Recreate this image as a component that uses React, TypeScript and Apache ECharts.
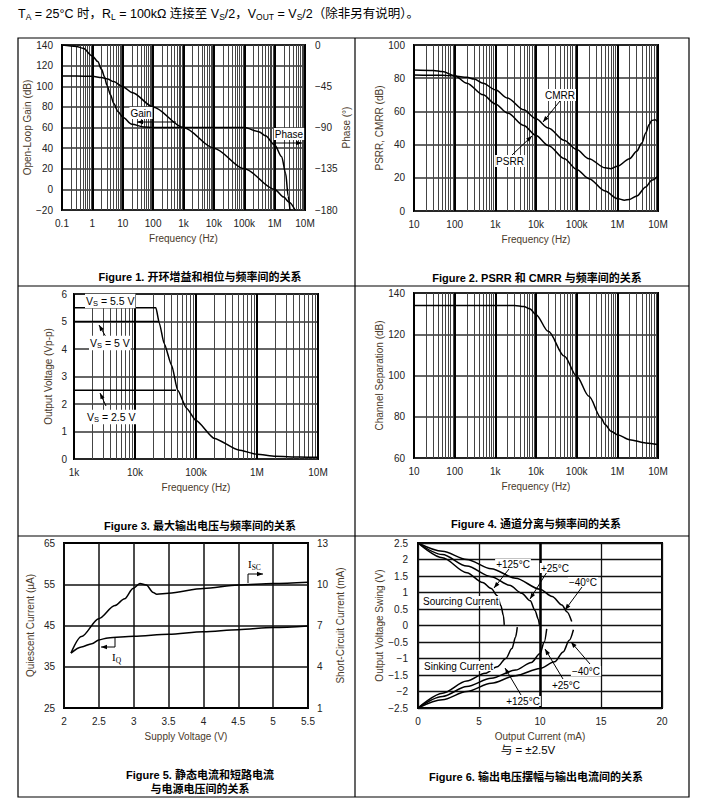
import React, { useEffect, useRef } from "react";
import * as echarts from "echarts";

// ---------------- Figure 1: open-loop gain & phase ----------------
const f1GainFreq = [0.1, 0.3, 1, 2, 3.16, 5, 10, 20, 100, 1000, 10000, 100000, 1000000, 2000000, 3000000, 4700000];
const f1Gain = [110, 110, 109.6, 108.5, 107, 104.5, 99.6, 94, 80, 60, 40, 20, 0, -7.5, -12.5, -20];
const f1PhaseFreq = [0.1, 0.3, 0.5, 1, 1.5, 2, 2.5, 3, 4, 5, 7, 10, 20, 50, 100, 1000, 10000, 100000, 300000, 500000, 1000000, 1700000, 2300000, 2800000, 3200000];
const f1Phase = [0, -1.5, -3.6, -12, -18, -26.5, -34.5, -43.8, -54.6, -63.6, -72.7, -78.9, -86.5, -89.4, -90, -90, -90, -90.1, -94.5, -99, -109, -121.8, -140, -165, -180];

// ---------------- Figure 2: PSRR / CMRR ----------------
const f2PsrrFreq = [10, 30, 50, 100, 200, 500, 1e3, 2e3, 5e3, 1e4, 2e4, 5e4, 1e5, 2e5, 5e5, 1e6, 1.5e6, 2e6, 3e6, 5e6, 7e6, 1e7];
const f2Psrr = [85, 84.7, 84, 81.5, 77, 70, 64.5, 59, 51.5, 45.5, 39.5, 31.5, 25, 19.5, 12, 7.5, 6.5, 7, 9, 14.5, 18.5, 21];
const f2CmrrFreq = [10, 50, 100, 200, 300, 500, 1e3, 2e3, 5e3, 1e4, 2e4, 5e4, 1e5, 2e5, 5e5, 7e5, 1e6, 2e6, 3e6, 4e6, 5e6, 6e6, 7e6, 8.5e6, 1e7];
const f2Cmrr = [82, 81.8, 81.3, 80.5, 79.5, 77, 73, 68, 61, 55.5, 50, 42.5, 37, 31.5, 26, 25.5, 27, 31.5, 36, 41, 47, 52, 54.5, 55, 53.5];

// ---------------- Figure 3: max output voltage ----------------
const f3Freq55 = [1e3, 2.2e4, 2.5e4, 3e4, 4e4, 5e4, 7e4, 1e5, 2e5, 5e5, 1e6, 2e6, 5e6, 1e7];
const f3Vout55 = [5.5, 5.5, 4.95, 4.2, 3.4, 2.5, 1.85, 1.4, 0.75, 0.33, 0.17, 0.1, 0.07, 0.06];
const f3Freq5 = [1e3, 2.45e4];
const f3Vout5 = [5, 5];
const f3Freq25 = [1e3, 4.7e4];
const f3Vout25 = [2.5, 2.5];

// ---------------- Figure 4: channel separation ----------------
const f4Freq = [10, 100, 1e3, 3e3, 5e3, 7e3, 1e4, 2e4, 5e4, 1e5, 2e5, 4e5, 5e5, 7e5, 1e6, 2e6, 5e6, 1e7];
const f4Sep = [134, 134, 134, 134, 133.5, 132.4, 129.5, 121.4, 109.3, 99.6, 89.9, 79.4, 76.2, 73, 71.3, 68.9, 67.3, 66.5];

// ---------------- Figure 5: IQ and ISC vs supply ----------------
const f5IscV = [2.1, 2.25, 2.5, 2.73, 2.87, 2.99, 3.09, 3.18, 3.28, 3.33, 3.5, 4.0, 4.5, 5.0, 5.5];
const f5Isc = [5.0, 6.2, 7.5, 8.45, 8.95, 9.7, 10.05, 9.95, 9.4, 9.28, 9.35, 9.7, 9.94, 10.06, 10.15];
const f5IqV = [2.1, 2.25, 2.4, 2.5, 2.63, 3.0, 3.5, 4.0, 4.5, 5.0, 5.5];
const f5Iq = [38.3, 39.8, 40.6, 41.5, 42.0, 42.4, 42.9, 43.5, 44.0, 44.5, 44.9];

// ---------------- Figure 6: output swing vs output current ----------------
const f6Src125I = [0, 2, 4, 5.3, 6.0, 6.5, 6.8, 7.0, 7.07];
const f6Src125V = [2.5, 2.05, 1.6, 1.3, 1.12, 0.9, 0.6, 0.3, 0.02];
const f6Src25I = [0, 2, 4, 6, 7.5, 8.5, 9.2, 9.6, 9.85, 9.95];
const f6Src25V = [2.5, 2.15, 1.8, 1.48, 1.22, 0.98, 0.75, 0.45, 0.2, 0.02];
const f6SrcM40I = [0, 2, 4, 6, 8, 10, 11, 11.8, 12.2, 12.6];
const f6SrcM40V = [2.5, 2.25, 2.0, 1.72, 1.43, 1.1, 0.88, 0.62, 0.42, 0.12];
const f6Snk125I = [0, 2, 4, 5.5, 6.5, 7.2, 7.7, 8.0, 8.14];
const f6Snk125V = [-2.5, -2.05, -1.68, -1.45, -1.25, -1.0, -0.7, -0.35, -0.05];
const f6Snk25I = [0, 2, 4, 6, 8, 9.3, 10.0, 10.35, 10.55];
const f6Snk25V = [-2.5, -2.15, -1.85, -1.6, -1.35, -1.12, -0.85, -0.5, -0.1];
const f6SnkM40I = [0, 2, 4, 6, 8, 10, 11.2, 11.9, 12.4, 12.74];
const f6SnkM40V = [-2.5, -2.25, -2.0, -1.75, -1.52, -1.3, -1.1, -0.8, -0.45, -0.13];

const freqLabels: Record<string, string> = {
  "-1": "0.1", "0": "1", "1": "10", "2": "100", "3": "1k", "4": "10k", "5": "100k", "6": "1M", "7": "10M",
};

const FONT = '"Liberation Sans", Arial, "Noto Sans CJK SC", sans-serif';
const TICK = "#222";
const NAME = "#4a3a2a";

function pairs(xs: number[], ys: number[]) {
  return xs.map((x, i) => [x, ys[i]]);
}

function logMinor(e0: number, e1: number) {
  const out: number[] = [];
  for (let e = e0; e < e1; e++) for (let k = 2; k <= 9; k++) out.push(+(k * Math.pow(10, e)).toPrecision(6));
  return out;
}

function numFmt(v: number) {
  const s = String(+(+v).toFixed(2));
  return v < 0 ? "\u2212" + s.replace("-", "") : s;
}

function logX(gridIndex: number, min: number, max: number, nameGap = 23) {
  return {
    type: "log", logBase: 10, gridIndex, min, max,
    splitNumber: Math.round(Math.log10(max / min)),
    name: "Frequency (Hz)", nameLocation: "middle", nameGap,
    nameTextStyle: { color: NAME, fontSize: 10, fontFamily: FONT },
    axisLine: { show: false }, axisTick: { show: false },
    axisLabel: {
      color: TICK, fontSize: 10, fontFamily: FONT, margin: 8,
      formatter: (v: number) => freqLabels[String(Math.round(Math.log10(v)))] ?? "",
    },
    splitLine: { show: true, lineStyle: { color: "#000", width: 2 } },
  };
}

function valAxis(gridIndex: number, min: number, max: number, interval: number, name: string, nameGap: number, extra: any = {}) {
  return {
    type: "value", gridIndex, min, max, interval,
    name, nameLocation: "middle", nameGap,
    nameTextStyle: { color: NAME, fontSize: 10, fontFamily: FONT },
    axisLine: { show: false }, axisTick: { show: false },
    axisLabel: { color: TICK, fontSize: 10, fontFamily: FONT, margin: 9, formatter: numFmt, ...(extra.axisLabel || {}) },
    splitLine: { show: true, lineStyle: { color: "#333", width: 1.5 }, ...(extra.splitLine || {}) },
    position: extra.position || "left",
  };
}

function gridLines(xAxisIndex: number, yAxisIndex: number, data: any[], color: string, width: number) {
  return {
    type: "line", xAxisIndex, yAxisIndex, data: [], silent: true, z: 1,
    markLine: {
      silent: true, symbol: ["none", "none"], animation: false,
      label: { show: false }, emphasis: { disabled: true },
      lineStyle: { color, width, type: "solid" }, data,
    },
  };
}

function curve(xAxisIndex: number, yAxisIndex: number, xs: number[], ys: number[], smooth: number | boolean = 0.3) {
  return {
    type: "line", xAxisIndex, yAxisIndex, data: pairs(xs, ys),
    showSymbol: false, symbol: "none", smooth, smoothMonotone: "x",
    lineStyle: { color: "#000", width: 1.5 }, z: 5, silent: true,
  };
}

function txt(x: number, y: number, text: string, o: any = {}) {
  const align = o.align || "center";
  return {
    type: "text", x, y, z: 120,
    style: {
      text, fill: "#000", fontSize: 10, fontFamily: FONT,
      align, textAlign: align, verticalAlign: "middle", textVerticalAlign: "middle",
      ...o,
    },
  };
}

function title(x: number, y: number, text: string) {
  return txt(x, y, text, { fontSize: 11, fontWeight: "bold", fontFamily: '"Liberation Sans", Arial, "Noto Sans CJK SC", sans-serif' });
}

function arrow(pts: number[][], head = 6, hw = 2.2) {
  const n = pts.length;
  const [x1, y1] = pts[n - 2];
  const [x2, y2] = pts[n - 1];
  const a = Math.atan2(y2 - y1, x2 - x1);
  const bx = x2 - head * Math.cos(a);
  const by = y2 - head * Math.sin(a);
  const p1 = [bx + hw * Math.sin(a), by - hw * Math.cos(a)];
  const p2 = [bx - hw * Math.sin(a), by + hw * Math.cos(a)];
  return [
    { type: "polyline", z: 119, shape: { points: pts }, style: { stroke: "#000", lineWidth: 1, fill: "none" } },
    { type: "polygon", z: 119, shape: { points: [[x2, y2], p1, p2] }, style: { fill: "#000", stroke: "none" } },
  ];
}

const SUB = { fontSize: 7.5, fontFamily: FONT, padding: [5, 0, 0, 0] };
const HSUB = { fontSize: 8.5, fontFamily: FONT, padding: [6, 0, 0, 0] };
const SUBSERIF = { fontSize: 7.5, fontFamily: '"Liberation Serif", serif', padding: [6, 0, 0, 0] };

function buildOption() {
  const DIV_X = 355;
  const graphic: any[] = [
    { type: "rect", z: 110, shape: { x: 18, y: 38, width: 671, height: 759 }, style: { fill: "none", stroke: "#000", lineWidth: 1.2 } },
    { type: "line", z: 110, shape: { x1: DIV_X, y1: 38, x2: DIV_X, y2: 797 }, style: { stroke: "#000", lineWidth: 1.2 } },
    { type: "line", z: 110, shape: { x1: 18, y1: 286, x2: 689, y2: 286 }, style: { stroke: "#000", lineWidth: 1.2 } },
    { type: "line", z: 110, shape: { x1: 18, y1: 536, x2: 689, y2: 536 }, style: { stroke: "#000", lineWidth: 1.2 } },
    // header
    txt(18, 14, "T{s|A} = 25°C 时，R{s|L} = 100kΩ 连接至 V{s|S}/2，V{s|OUT} = V{s|S}/2（除非另有说明）。", {
      align: "left", fontSize: 12.5, rich: { s: HSUB },
    }),
    // titles
    title(200, 277, "Figure 1. 开环增益和相位与频率间的关系"),
    title(537, 278, "Figure 2. PSRR 和 CMRR 与频率间的关系"),
    title(200, 526, "Figure 3. 最大输出电压与频率间的关系"),
    title(536, 524, "Figure 4. 通道分离与频率间的关系"),
    title(200, 775, "Figure 5. 静态电流和短路电流"),
    title(200, 789, "与电源电压间的关系"),
    title(536, 777, "Figure 6. 输出电压摆幅与输出电流间的关系"),
    txt(528, 750, "与 = ±2.5V", { fontSize: 11.5 }),
    // Figure 1 annotations
    txt(141, 113, "Gain", { backgroundColor: "#fff", padding: [1, 1] }),
    ...arrow([[176, 122], [137, 122]]),
    txt(289, 134, "Phase", { backgroundColor: "#fff", padding: [1, 1] }),
    ...arrow([[273, 143], [302, 143]]),
    // Figure 2 annotations
    txt(560, 95, "CMRR", { backgroundColor: "#fff", padding: [1, 1] }),
    ...arrow([[560, 101], [543, 122]]),
    txt(510, 161, "PSRR", { backgroundColor: "#fff", padding: [1, 1] }),
    ...arrow([[512, 155], [532, 136]]),
    // Figure 3 annotations
    txt(85, 301, "V{s|S} = 5.5 V", { align: "left", fontSize: 10.5, backgroundColor: "#fff", padding: [1, 1], rich: { s: SUB } }),
    txt(89, 343, "V{s|S} = 5 V", { align: "left", fontSize: 10.5, backgroundColor: "#fff", padding: [1, 1], rich: { s: SUB } }),
    ...arrow([[106, 337], [99, 325]]),
    txt(86, 417, "V{s|S} = 2.5 V", { align: "left", fontSize: 10.5, backgroundColor: "#fff", padding: [1, 1], rich: { s: SUB } }),
    ...arrow([[106, 406], [100, 393]]),
    // Figure 5 annotations
    txt(248, 564, "I{s|SC}", { align: "left", fontSize: 11, fontFamily: '"Liberation Serif", serif', rich: { s: SUBSERIF } }),
    ...arrow([[248, 583], [248, 574], [263, 574]]),
    txt(112, 657, "I{s|Q}", { align: "left", fontSize: 11, fontFamily: '"Liberation Serif", serif', rich: { s: SUBSERIF } }),
    ...arrow([[115, 638], [115, 647], [101, 647]]),
    // Figure 6 annotations
    txt(513, 564, "+125°C", { backgroundColor: "#fff", padding: [0, 1] }),
    ...arrow([[509, 569], [494, 588]]),
    txt(555, 568, "+25°C", { backgroundColor: "#fff", padding: [0, 1] }),
    ...arrow([[547, 572], [530, 599]]),
    txt(583, 582, "\u221240°C", { backgroundColor: "#fff", padding: [0, 1] }),
    ...arrow([[582, 587], [565, 610]]),
    txt(422, 601, "Sourcing Current", { align: "left", backgroundColor: "#fff", padding: [0, 1] }),
    txt(423, 666, "Sinking Current", { align: "left", backgroundColor: "#fff", padding: [0, 1] }),
    txt(586, 671, "\u221240°C", { backgroundColor: "#fff", padding: [0, 1] }),
    ...arrow([[590, 664], [571, 642]]),
    txt(566, 685, "+25°C", { backgroundColor: "#fff", padding: [0, 1] }),
    ...arrow([[563, 679], [545, 649]]),
    txt(523, 701, "+125°C", { backgroundColor: "#fff", padding: [0, 1] }),
    ...arrow([[521, 695], [505, 668]]),
  ];

  const gridBase = { show: true, borderColor: "#000", borderWidth: 2, backgroundColor: "#fff", containLabel: false, outerBoundsMode: "none" };

  return {
    animation: false,
    backgroundColor: "#fff",
    textStyle: { fontFamily: FONT },
    grid: [
      { ...gridBase, left: 62, top: 45, width: 243, height: 165 },
      { ...gridBase, left: 414, top: 45, width: 244, height: 166 },
      { ...gridBase, left: 74, top: 294, width: 244, height: 165 },
      { ...gridBase, left: 414, top: 293, width: 244, height: 165 },
      { ...gridBase, left: 64, top: 543, width: 244, height: 165 },
      { ...gridBase, left: 418, top: 543, width: 244, height: 165 },
    ],
    xAxis: [
      logX(0, 0.1, 1e7),
      logX(1, 10, 1e7),
      logX(2, 1e3, 1e7),
      logX(3, 10, 1e7),
      {
        ...valAxis(4, 2, 5.5, 0.5, "Supply Voltage (V)", 23, { splitLine: { lineStyle: { color: "#111", width: 1.5 } } }),
        position: "bottom",
        axisLabel: { color: TICK, fontSize: 10, fontFamily: FONT, margin: 8, formatter: numFmt },
      },
      {
        ...valAxis(5, 0, 20, 5, "Output Current (mA)", 23, { splitLine: { lineStyle: { color: "#111", width: 1.3 } } }),
        position: "bottom",
        axisLabel: { color: TICK, fontSize: 10, fontFamily: FONT, margin: 8, formatter: numFmt },
      },
    ],
    yAxis: [
      valAxis(0, -20, 140, 20, "Open-Loop Gain (dB)", 27),
      valAxis(0, -180, 0, 45, "Phase (°)", 33, { position: "right", splitLine: { show: false }, axisLabel: { margin: 10 } }),
      valAxis(1, 0, 100, 20, "PSRR, CMRR (dB)", 29),
      valAxis(2, 0, 6, 1, "Output Voltage (Vp-p)", 21, { axisLabel: { margin: 7 } }),
      valAxis(3, 60, 140, 20, "Channel Separation (dB)", 29),
      valAxis(4, 25, 65, 5, "Quiescent Current (\u00b5A)", 29, {
        splitLine: { show: false },
        axisLabel: { formatter: (v: number) => ((Math.round(v) - 25) % 10 === 0 ? String(v) : "") },
      }),
      valAxis(4, 1, 13, 1, "Short-Circuit Current (mA)", 27, {
        position: "right", splitLine: { show: false },
        axisLabel: { margin: 9, formatter: (v: number) => ((Math.round(v) - 1) % 3 === 0 ? String(v) : "") },
      }),
      valAxis(5, -2.5, 2.5, 0.5, "Output Voltage Swing (V)", 33, { splitLine: { lineStyle: { color: "#111", width: 1.3 } }, axisLabel: { margin: 10 } }),
    ],
    series: [
      gridLines(0, 0, logMinor(-1, 7).map((v) => ({ xAxis: v })), "#444", 1),
      gridLines(1, 2, logMinor(1, 7).map((v) => ({ xAxis: v })), "#444", 1),
      gridLines(2, 3, logMinor(3, 7).map((v) => ({ xAxis: v })), "#444", 1),
      gridLines(3, 4, logMinor(1, 7).map((v) => ({ xAxis: v })), "#444", 1),
      gridLines(4, 5, [35, 45, 55].map((v) => ({ yAxis: v })), "#111", 1.5),
      gridLines(5, 7, [{ xAxis: 10 }], "#000", 2.5),
      curve(0, 0, f1GainFreq, f1Gain),
      curve(0, 1, f1PhaseFreq, f1Phase),
      curve(1, 2, f2PsrrFreq, f2Psrr),
      curve(1, 2, f2CmrrFreq, f2Cmrr),
      curve(2, 3, f3Freq55, f3Vout55, 0.2),
      curve(2, 3, f3Freq5, f3Vout5, false),
      curve(2, 3, f3Freq25, f3Vout25, false),
      curve(3, 4, f4Freq, f4Sep),
      curve(4, 6, f5IscV, f5Isc),
      curve(4, 5, f5IqV, f5Iq),
      curve(5, 7, f6Src125I, f6Src125V),
      curve(5, 7, f6Src25I, f6Src25V),
      curve(5, 7, f6SrcM40I, f6SrcM40V),
      curve(5, 7, f6Snk125I, f6Snk125V),
      curve(5, 7, f6Snk25I, f6Snk25V),
      curve(5, 7, f6SnkM40I, f6SnkM40V),
    ],
    graphic,
  };
}

export default function App() {
  const ref = useRef<HTMLDivElement>(null);
  useEffect(() => {
    if (!ref.current) return;
    const chart = echarts.init(ref.current, null, { renderer: "svg" });
    chart.setOption(buildOption() as any);
    return () => chart.dispose();
  }, []);
  return (
    <div
      ref={ref}
      style={{ position: "absolute", left: 0, top: 0, width: 713, height: 810, background: "#fff" }}
    />
  );
}
